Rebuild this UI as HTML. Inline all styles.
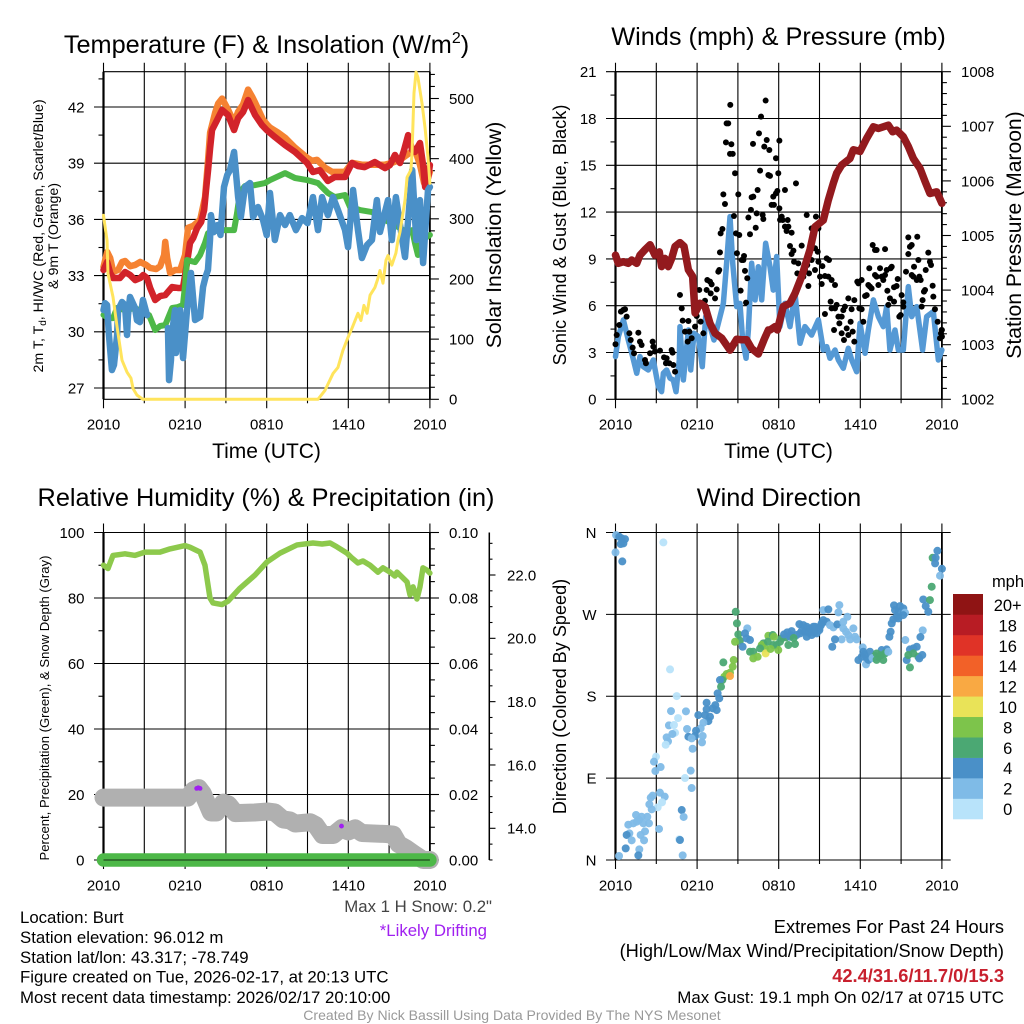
<!DOCTYPE html>
<html lang="en">
<head>
<meta charset="utf-8">
<title>Burt Mesonet Meteogram</title>
<style>
html,body{margin:0;padding:0;background:#fff;}
svg{display:block;font-family:"Liberation Sans",Arial,sans-serif;}
text{fill:#000;}
</style>
</head>
<body>
<svg id="chart" xmlns="http://www.w3.org/2000/svg" width="1024" height="1024" viewBox="0 0 1024 1024">
<rect x="0" y="0" width="1024" height="1024" fill="#fff"/>
<g id="layer-plots"></g>
<text x="266.5" y="53" font-size="25.3" text-anchor="middle">Temperature (F) &amp; Insolation (W/m<tspan dy="-10" font-size="16">2</tspan><tspan dy="10">)</tspan></text>
<text x="778.5" y="45" font-size="25.3" text-anchor="middle">Winds (mph) &amp; Pressure (mb)</text>
<text x="266" y="506" font-size="25.3" text-anchor="middle">Relative Humidity (%) &amp; Precipitation (in)</text>
<text x="779" y="506" font-size="25.3" text-anchor="middle">Wind Direction</text>
<text transform="translate(43 236) rotate(-90)" font-size="14.2" text-anchor="middle">2m T, T<tspan dy="3" font-size="10">d</tspan><tspan dy="-3">, HI/WC (Red, Green, Scarlet/Blue)</tspan></text>
<text transform="translate(58 236) rotate(-90)" font-size="14.2" text-anchor="middle">&amp; 9m T (Orange)</text>
<text transform="translate(501 235) rotate(-90)" font-size="21.2" text-anchor="middle">Solar Insolation (Yellow)</text>
<text transform="translate(566 235) rotate(-90)" font-size="18.2" text-anchor="middle">Sonic Wind &amp; Gust (Blue, Black)</text>
<text transform="translate(1021 235) rotate(-90)" font-size="21.1" text-anchor="middle">Station Pressure (Maroon)</text>
<text transform="translate(49 708) rotate(-90)" font-size="13.1" text-anchor="middle">Percent, Precipitation (Green), &amp; Snow Depth (Gray)</text>
<text transform="translate(566 696.5) rotate(-90)" font-size="18.1" text-anchor="middle">Direction (Colored By Speed)</text>
<text x="266.5" y="458" font-size="21" text-anchor="middle">Time (UTC)</text>
<text x="778.5" y="458" font-size="21" text-anchor="middle">Time (UTC)</text>
<text x="1008" y="587" font-size="16.5" text-anchor="middle">mph</text>
<text x="492" y="912" font-size="16.8" text-anchor="end" style="fill:#444">Max 1 H Snow: 0.2"</text>
<text x="487" y="936" font-size="16.8" text-anchor="end" style="fill:#a020f0">*Likely Drifting</text>
<text x="20" y="923" font-size="16.8">Location: Burt</text>
<text x="20" y="943" font-size="16.8">Station elevation: 96.012 m</text>
<text x="20" y="963" font-size="16.8">Station lat/lon: 43.317; -78.749</text>
<text x="20" y="982.5" font-size="16.8">Figure created on Tue, 2026-02-17, at 20:13 UTC</text>
<text x="20" y="1003" font-size="16.8">Most recent data timestamp: 2026/02/17 20:10:00</text>
<text x="1004" y="933" font-size="18.25" text-anchor="end">Extremes For Past 24 Hours</text>
<text x="1004" y="957" font-size="18.25" text-anchor="end">(High/Low/Max Wind/Precipitation/Snow Depth)</text>
<text x="1004" y="982" font-size="18.3" font-weight="bold" text-anchor="end" style="fill:#c8202e">42.4/31.6/11.7/0/15.3</text>
<text x="1004" y="1003" font-size="16.9" text-anchor="end">Max Gust: 19.1 mph On 02/17 at 0715 UTC</text>
<text x="512" y="1020" font-size="14.05" text-anchor="middle" style="fill:#999">Created By Nick Bassill Using Data Provided By The NYS Mesonet</text>
</svg>
<script>
// ---------- chart data ----------
const timeTickLabels = ['2010','0210','0810','1410','2010'];
const tempTicks = [42,39,36,33,30,27];
const tempMinorTicks = [43.5,40.5,37.5,34.5,31.5,28.5];
const insolationTicks = [0,100,200,300,400,500];
const windTicks = [0,3,6,9,12,15,18,21];
const windMinorTicks = [1.5,4.5,7.5,10.5,13.5,16.5,19.5];
const pressureTicks = [1002,1003,1004,1005,1006,1007,1008];
const percentTicks = [0,20,40,60,80,100];
const percentMinorTicks = [10,30,50,70,90];
const precipTicks = [0,0.02,0.04,0.06,0.08,0.1];
const snowTicks = [14,16,18,20,22];
const directionTicks = [0,90,180,270,360];
const directionLabels = ['N','E','S','W','N'];
const speedLabels = ['0','2','4','6','8','10','12','14','16','18','20+'];
const speedColors = ['#b8e3fa','#7fbbe7','#4a90c8','#4ba873','#7dc44b','#e9e358','#f9a943','#f26128','#e03327','#b81c24','#8f1414'];

const orangeHours = [0,.27,.49,.71,1.08,1.37,1.59,1.96,2.33,2.7,3.14,3.43,3.87,4.17,4.46,4.54,4.68,4.9,5.27,5.64,6,6.22,6.59,7.11,7.47,7.69,7.84,8.21,8.43,8.72,9.16,9.6,9.9,10.26,10.63,10.93,11.15,11.73,12.03,12.25,12.84,13.35,14.08,14.97,15.33,15.7,16.29,16.8,17.76,18.27,19,19.6,20.7,21.21,21.8,22.53,22.9,23.27,23.57,23.86,24];
const orangeTemps = [33.46,34.26,33.94,33.2,33.3,33.73,33.78,33.5,33.57,33.73,33.57,33.41,33.35,33.5,34.1,34.8,33.94,33.14,33.3,33.3,34.1,35.55,35.65,35.98,37.2,39.18,40.63,41.7,42.18,42.45,41.86,41.16,41.75,42.13,42.93,42.55,42.23,41.32,41.06,40.9,40.63,40.36,39.83,39.29,39.13,39.18,38.76,38.54,38.54,39.02,38.92,38.92,38.92,39.02,39.18,39.56,39.72,38.92,37.95,38.22,38.54];

const redHours = [0,.27,.49,.71,1.2,1.59,1.96,2.33,2.7,2.92,3.2,3.43,3.8,4.17,4.54,5.05,5.47,5.84,6,6.36,6.59,6.88,7.18,7.4,7.54,7.69,7.84,7.98,8.35,8.72,9.16,9.6,9.9,10.26,10.63,11.15,11.65,12,12.6,13.35,14.08,14.97,15.4,15.9,16.5,17,17.75,18.27,18.7,19.2,19.95,20.7,21.06,21.43,21.8,22.1,22.4,22.7,22.9,23.27,23.5,23.65,23.86,24];
const redTemps = [33.3,33.73,33.14,32.87,32.87,33.19,33.03,32.76,32.87,33.03,32.87,32.34,31.7,31.91,31.96,32.39,32.34,32.34,33.03,34.74,35,35.54,35.86,36.5,37.57,38.63,39.81,40.77,41.3,41.84,41.57,40.77,41.41,41.73,42.37,41.57,41.04,40.77,40.4,39.97,39.6,39.01,38.53,38.63,38.05,38.26,38.26,39.01,38.85,38.79,39.06,38.74,38.9,39.44,39.01,39.7,40.5,39.7,39.6,40.08,38.9,37.73,38.21,38.9];

const greenHours = [0,.33,.7,1,1.59,2.33,2.83,3.35,3.8,4.17,4.54,5.05,5.47,5.84,6,6.14,6.73,7.1,7.46,7.69,8.2,8.93,9.6,9.82,10.04,10.4,11.15,11.87,12.25,13.35,14.08,14.97,15.77,16.5,17,17.75,18.13,18.86,19.74,20.7,21.43,22.4,22.7,22.9,23.12,23.42,24];
const greenTemps = [30.9,30.73,30.73,31.27,31.16,31.27,31.05,30.89,30.09,30.31,30.36,31.27,31.32,31.43,32.5,33.83,33.72,34.1,34.74,35.27,35.38,35.43,35.43,36.34,37.46,37.78,37.83,37.94,38.1,38.47,38.21,38.1,37.94,37.41,37.19,37.3,36.66,36.5,36.39,35.97,35.7,35.27,35.43,34.74,34.1,34.9,35.17];

const blueHours = [0,.11,.26,.4,.62,.77,1,1.07,1.36,1.58,1.73,1.8,1.95,2.32,2.46,2.68,2.9,3.2,3.3,4.74,4.82,4.96,5.04,5.26,5.33,5.63,5.85,6.14,6.43,6.73,7.1,7.32,7.5,7.68,7.83,7.9,8.1,8.4,8.6,8.86,9.1,9.3,9.6,9.9,10.1,10.4,10.77,11,11.36,11.73,12,12.24,12.6,12.98,13.35,13.7,14.15,14.6,15,15.4,15.77,16.07,16.5,16.87,17.24,17.76,17.98,18.35,18.71,19,19.38,19.74,20.1,20.33,20.92,21.2,21.5,21.95,22.17,22.4,22.7,23,23.27,23.5,23.86,24];
const blueTemps = [31.16,31.53,31.43,29.83,27.96,28.23,29.83,31.16,31.59,31.43,29.83,30.89,31.86,31.27,30.62,30.52,31.7,30.89,null,30.2,27.42,28.49,29.93,31.16,28.87,31.16,28.6,31.16,33.14,30.63,30.79,32.39,32.92,33.3,34.9,36.23,35.32,35.7,35.17,37.73,38.37,38.63,39.6,37.19,36.13,37.73,37.94,36.13,36.66,35.97,35.16,37.41,34.9,36.23,35.7,36.23,35.43,36.07,35.8,37.19,35.43,37.19,36.23,37.19,36.5,35.43,34.52,37.57,35.43,33.94,34.63,34.9,37.03,35.33,37.03,34.9,37.19,35,33.99,35.97,38.63,34.9,37.03,33.67,37.57,37.73];

const insolationHours = [0,.07,.26,.33,.7,1,1.36,1.73,2.02,2.17,2.46,2.9,6,12,15.77,16.29,16.88,17.24,17.6,17.98,18.27,18.5,18.71,18.93,19.15,19.38,19.6,19.96,20.18,20.33,20.55,20.77,20.92,21.2,21.5,21.65,21.8,22.17,22.32,22.6,22.68,22.83,22.98,23.12,23.42,23.64,23.86,24];
const insolationValues = [306,294,264,209,170,120,65,45,35,18,7,0,0,0,0,15,43,53,81,103,118,131,143,131,156,143,173,186,201,214,193,231,239,223,243,264,278,331,369,381,406,509,544,535,492,452,402,359];

const windHours = [0,.21,.58,.94,1.26,1.56,1.8,2.05,2.41,2.78,3.15,3.39,3.52,3.76,4.01,4.25,4.45,4.69,4.74,4.99,5.36,5.53,5.77,6.09,6.38,6.63,6.95,7.24,7.56,7.93,8.17,8.42,8.62,8.91,9.15,9.35,9.6,9.77,10.01,10.26,10.5,10.75,11.04,11.36,11.6,11.85,12.09,12.46,12.83,13.2,13.57,13.93,14.42,14.92,15.28,15.53,15.77,16.14,16.39,16.75,17.12,17.37,17.73,17.98,18.35,18.59,18.96,19.33,19.69,19.94,20.18,20.55,20.8,21.16,21.53,21.78,22.15,22.58,22.88,23.37,23.74,24];
const windSpeeds = [2.74,4.02,5.09,3.8,2.74,1.67,2.74,2.09,1.88,2.52,.81,.49,1.67,1.88,1.35,1.24,.49,2.52,4.66,1.24,4.44,1.88,4.23,4.02,2.09,5.3,4.66,3.8,4.87,6.15,8.72,11.71,8.72,5.94,6.15,3.8,2.63,4.44,8.72,6.37,8.5,6.37,10,8.5,7.0,9.15,4.66,6.15,4.66,6.79,3.59,4.66,4.12,5.09,3.16,3.38,2.63,3.16,2.52,1.99,3.27,2.52,1.77,4.87,2.95,4.44,6.37,5.3,4.66,5.94,3.16,4.44,3.16,3.16,7.22,5.3,5.94,3.16,5.3,5.62,2.52,3.16];

const pressureHours = [0,.21,.58,.94,1.19,1.56,1.8,2.17,2.54,2.9,3.22,3.39,3.64,3.88,4.13,4.38,4.74,5.04,5.36,5.67,5.85,6.21,6.58,6.95,7.32,7.81,8.42,8.91,9.28,9.64,10.01,10.5,10.92,11.24,11.36,11.73,11.9,12.34,12.83,13.2,13.69,14.3,14.67,15.28,15.65,16.02,16.26,16.63,17.24,17.49,17.98,18.47,18.96,19.33,20.06,20.38,20.67,21.16,21.53,21.9,22.39,22.76,23.12,23.62,24];
const pressureValues = [1004.64,1004.49,1004.52,1004.49,1004.55,1004.49,1004.64,1004.74,1004.83,1004.64,1004.7,1004.43,1004.58,1004.43,1004.58,1004.8,1004.87,1004.8,1004.37,1004.25,1003.58,1003.76,1003.7,1003.39,1003.21,1003.12,1002.9,1003.1,1003.09,1003.09,1002.93,1002.83,1003.09,1003.27,1003.27,1003.33,1003.27,1003.7,1003.76,1003.94,1004.25,1004.74,1005.16,1005.28,1005.65,1005.96,1006.14,1006.29,1006.41,1006.57,1006.54,1006.78,1006.99,1006.96,1007.02,1006.9,1006.93,1006.81,1006.63,1006.41,1006.23,1005.99,1005.77,1005.8,1005.59];

const gustHours = [0,.09,.28,.4,.58,.7,.82,1.02,1.12,1.26,1.36,1.68,1.8,1.92,2.17,2.24,2.54,2.73,2.78,2.9,3.27,3.57,3.76,4.13,4.2,3.71,3.96,4.25,4.38,4.74,4.87,4.94,5.11,5.36,5.43,5.31,5.6,5.85,5.97,6.16,6.26,6.46,6.58,6.7,6.75,6.95,7.07,7,7.32,7.44,7.56,7.63,7.68,7.73,7.86,7.93,8.05,8.12,8.17,8.29,8.44,8.42,8.52,8.62,8.79,8.71,8.86,8.93,9.1,9.03,9.2,9.28,9.4,9.45,9.52,9.69,9.6,9.89,9.77,9.96,10.01,10.13,10.11,10.31,10.38,10.45,10.55,10.63,10.7,10.82,10.87,11.04,11.12,10.94,11.31,11.24,11.36,11.48,11.6,11.65,11.8,11.8,11.9,11.97,12.05,12.05,12.1,
12.46,13.27,12.22,12.29,12.46,12.66,12.71,12.58,12.95,12.83,13.08,12.95,13.13,13.44,13.69,14.06,13.37,13.81,13.93,14.1,14.42,14.23,14.18,14.42,14.67,14.74,14.87,14.92,14.67,14.92,15.21,15.53,15.7,15.04,15.16,15.4,15.65,15.89,16.14,15.4,15.82,15.89,16.14,16.26,16.39,16.46,16.63,16.07,16.63,16.8,17,17.12,17.29,17.44,17.56,16.75,16.87,17.12,17.36,17.56,17.86,17.78,17.93,18.1,18.22,18.35,18.47,18.1,18.59,18.66,18.71,18.83,18.91,19.08,19.2,19.08,19.2,19.33,19.45,19.57,19.69,19.82,19.82,19.94,20.23,20.31,19.99,20.18,20.48,20.67,20.75,20.48,20.06,20.87,20.97,21.04,21.16,21.16,21.36,21.53,21.53,21.65,21.78,21.78,21.95,21.9,22.15,22.19,22.27,22.34,22.44,22.51,22.58,22.68,22.76,22.81,23,23.12,23.2,23.32,23.37,23.49,23.69,23.86,23.98,24,23.93,24];
const gustSpeeds = [3.53,4.12,4.76,5.62,5.73,5.77,5.3,4.23,3.8,3.31,2.95,4.27,3.7,3.48,2.52,2.31,2.95,3.7,3.38,3.06,3.12,2.69,2.63,3.16,2.99,2.31,2.31,2.2,1.77,6.69,5.83,5.04,4.34,5.02,4.34,3.7,3.91,4.66,5.34,7.01,4.98,4.23,6.32,7.01,7.65,7.54,7.37,6.79,6.47,7.05,8.18,8.29,9.42,10.64,10.92,13.14,12.52,16.47,17.69,17.69,18.87,15.73,16.35,15.73,14.49,11.75,10.64,9.36,10.53,13.14,6.97,8.93,8.93,9.19,8.23,7.76,6.2,10.58,11.65,12.14,12.95,12.99,16.37,11,11.92,13.42,17.05,14.66,18.12,11.82,11.56,19.15,16.62,16.2,15.98,14.38,14.32,12.46,12.99,12.46,15.45,13.2,13.35,14.49,16.58,12.24,11.5,
13.42,13.84,11.71,11.49,11.07,11.49,11.07,10.79,10.68,9.83,9.53,9.31,8.82,8.71,9.85,11.81,8.07,7.86,8.29,8.61,8.93,8.07,7.26,10.96,9.68,11.71,9.46,10.96,8.29,8.82,8.54,9.03,8.93,7.86,7.39,7.9,7.86,7.65,7.33,5.47,6.26,5.83,5.83,6.05,5.3,4.87,5.3,4.44,4.23,3.8,4.55,4.12,4.97,4.34,3.7,5.72,5.94,6.47,5.77,6.36,7.43,7.54,5.83,5.77,4.97,6.62,6.68,7.65,7.33,8.4,7.22,7.11,9.89,9.57,9.57,7.97,7.86,7.33,8.4,7.86,7.65,7.97,9.63,8.29,8.4,8.5,6.96,6.47,7.18,7.26,7.71,6.26,6.05,5.3,5.4,6.68,5.94,6.21,8.18,9.31,10.38,9.78,9.89,7.97,8.5,7.86,7.65,10.42,8.93,7.86,7.65,5.94,6.36,6.9,7.01,8.29,9.4,8.82,8.61,7.28,6.58,5.77,4.97,3.91,4.44,4.44,4.23,4.02];

const humidityHours = [0,.33,.7,1.58,2.32,3.05,4.15,4.89,6,6.36,7.1,7.46,7.83,8.05,8.71,9.15,10.04,11.14,12.02,12.98,14.23,15.4,16.07,16.66,17.17,17.9,18.27,18.71,19.08,19.6,20.18,20.55,21.07,21.43,21.58,22.32,22.54,22.76,23.05,23.27,23.49,23.79,24];
const humidityValues = [90,89,93,93.5,93,94,94,95,96,95.5,94,90,80,78.5,78,79,83,87,91,93.7,96.2,96.8,96.5,96.8,95.6,93.7,92.2,90.7,91.3,90,87.9,89.2,87.9,86.7,87.9,84.9,80.9,83.4,79.7,83.4,89.2,88.5,87.6];

const snowHours = [0,6.2,6.6,7,7.3,7.9,8.3,8.8,9.2,9.7,11.1,12.1,12.6,13.2,13.7,14.1,15.2,15.6,16.1,16.9,17.5,18,18.5,19,20.8,21.3,21.7,22.2,22.8,23.5,24];
const snowDepths = [14.97,14.97,15.2,15.27,15.1,14.5,14.5,14.81,14.75,14.48,14.5,14.53,14.5,14.28,14.25,14.15,14.19,14.1,13.79,13.79,14,13.9,14,13.85,13.82,13.8,13.5,13.38,13.2,13,13];

const precipHours = [0,1,2,3,4,5,6,7,8,9,10,11,12,13,14,15,16,17,18,19,20,21,22,23,24];
const precipValues = [0,0,0,0,0,0,0,0,0,0,0,0,0,0,0,0,0,0,0,0,0,0,0,0,0];

const driftHours = [6.85,6.97,7.1,17.5];
const driftDepths = [15.26,15.28,15.26,14.07];

const directionHours = [.04,.28,.45,.7,.58,.38,0,.5,3.52,8.84,8.93,9.03,9.69,9.52,9.15,9.64,9.89,9.35,8.79,7.93,8.69,8.62,4.01,8.42,8.17,8,8.42,7.86,7.68,7.76,7.51,7.63,4.5,6.7,7.34,7.14,7.44,6.7,4.08,5.18,6.09,6.58,6.95,6.83,4.6,6.46,3.93,4.3,5.26,6.26,5.92,4.38,4.18,3.76,3.86,5.36,5.85,6.41,5.6,6.36,3.69,5.67,2.98,2.83,3.32,2.93,5.53,5.11,5.6,3.27,2.73,3.62,2.59,3.42,2.49,3.1,2.66,4.87,5.01,1.51,2.34,1.92,1.73,1.31,.94,2.05,2.46,1.56,3.2,2.17,1.02,1.85,.82,1.19,2.1,4.69,4.74,.75,1.75,.26,1.68,4.94,
11.24,10.87,10.75,10.99,10.63,10.13,9.89,11.04,10.13,10.45,
11.56,11.65,11.85,11.97,11.61,12.22,12.54,12.71,13.2,12.63,12.95,12.83,13.32,13.52,13.81,13.57,13.93,14.06,14.3,14.55,14.43,14.79,14.99,14.67,14.06,15.28,15.65,16.39,16.46,15.28,15.53,15.16,15.77,16.02,16.31,16.75,17.05,16.63,16.14,15.94,16.75,16.95,17.49,17.12,17.61,17.25,17.73,18.18,17.86,18.1,18.47,18.42,18.22,18.71,19.08,19.33,19.57,19.94,19.69,19.82,20.06,
20.48,20.92,21.16,20.55,20.8,21.29,21.16,20.67,20.43,20.8,20.31,20.23,20.14,21.31,22.59,22.42,22.15,21.65,21.9,21.41,21.53,21.9,21.65,22.27,22.56,22.34,22.63,23.12,22.81,23,23.25,23.32,23.67,23.54,23.5,24,23.86,
11.2,11.4,12.1,12.4,12.9,13.1,13.7,14.2,14.6,15,15.1,18.3,18.6,18.9,19.2,19.5,19.2];
const directionDegrees = [357.1,355.3,353.5,352.7,348,347.3,338.1,328.2,349.1,272.9,260.1,248,254.6,249.1,241,243.6,241.8,234.4,239.9,217.2,219.8,212.5,209.5,205.9,204.4,201.5,202.2,197.8,197.8,190.5,183.2,177.7,180.2,172.9,170.3,166.7,164.8,165.6,163.7,163.4,159.3,159.3,157.5,152.7,156,150.9,148,148.4,144,144.7,142.1,139.9,138.5,134.8,130.4,135.5,136.3,136.3,133.7,129.3,126.7,122.3,113.6,108.1,102.2,97.8,98.2,90.1,79.1,74,70.7,69.6,68.5,63.4,61.2,57.9,55.7,54.9,47.3,49.5,47.6,47.6,44,40.3,38.8,40.3,40.3,42.1,34.1,31.5,29.3,27.5,27.5,21.6,21.6,22.7,22,12.8,11.7,4.4,5.1,5.1,
246.5,238.1,236.3,232.6,232.6,228.9,228.9,227.1,221.6,223.4,
247.3,245.4,236.3,230.8,236.3,243.6,244.7,236.3,237.4,250.2,251.6,245.4,247.3,259.3,258.2,249.1,250.9,256.4,254.6,256.4,247.3,249.1,252.7,256.4,245.4,274.7,275.5,272.2,280.2,263.7,261.9,260.1,258.2,255.7,259,261.9,267.4,242.5,242.5,234.4,254.6,250.9,254.6,247.3,245.4,242.5,242.5,233.7,219.8,223.4,221.6,215,228.9,228.9,224.2,223.4,230.8,231.5,219.8,227.1,228.9,
279.9,279.1,276.6,274.7,272.9,271.8,269.2,267.4,264.5,265.6,260.1,250.9,245.4,241.8,252.4,245.1,234.4,231.5,232.6,219.8,225.3,227.1,211.7,223.4,225.3,221.6,286.4,285.7,279.1,272.9,300.4,332.2,339.9,332.2,326,320.1,312.5,
240,232,240,248,247,244,252,250,250,255,258,226,220,222,227,225,220];
const directionSpeeds = [2,4,4,4,4,4,2,4,0,6,6,6,2,4,6,4,4,4,8,6,8,8,0,8,8,8,12,6,4,6,4,4,0,4,4,4,4,4,2,2,4,4,4,4,0,2,2,0,2,2,4,0,2,2,2,4,4,2,2,2,0,2,0,2,2,2,2,0,2,2,2,2,2,0,2,0,2,4,2,2,2,2,2,2,2,2,2,2,2,2,2,2,4,2,2,0,4,4,2,2,4,2,
8,6,8,8,6,6,6,10,8,8,
6,8,6,8,6,6,6,6,6,4,4,4,4,4,4,4,4,4,4,4,4,4,4,4,4,2,4,2,2,4,4,4,2,2,4,2,2,2,4,4,2,2,2,2,2,2,2,2,4,4,4,2,4,4,6,6,4,4,6,6,2,
4,4,4,4,4,2,4,4,4,4,4,4,4,2,2,4,4,4,4,4,6,6,6,6,4,4,4,6,4,4,6,6,4,4,4,4,2,
6,8,6,4,4,6,4,4,4,4,4,4,4,2,6,6,6];

// ---------- axis helpers ----------
function makeY(v0, y0, v1, y1) {
  return function (v) { return y0 + (v - v0) * (y1 - y0) / (v1 - v0); };
}
const yTemp = makeY(42, 107, 27, 388);
const yInsolation = makeY(0, 399.3, 500, 98.5);
const yWind = makeY(0, 399.3, 21, 71.7);
const yPressure = makeY(1002, 399.3, 1008, 71.7);
const yPercent = makeY(0, 860, 100, 532.5);
const yPrecip = makeY(0, 860, 0.1, 532.5);
const ySnow = makeY(14, 828.3, 22, 575);
const yDirection = makeY(0, 860, 360, 532.5);

const plotsRoot = document.getElementById('layer-plots');
const SVGNS = 'http://www.w3.org/2000/svg';

function mk(tag, parent, name) {
  const el = document.createElementNS(SVGNS, tag);
  
  
  parent.appendChild(el);
  return el;
}
function addLine(parent, name, x1, y1, x2, y2, width) {
  const el = mk('line', parent, name);
  el.setAttribute('x1', x1);
  el.setAttribute('y1', y1);
  el.setAttribute('x2', x2);
  el.setAttribute('y2', y2);
  el.setAttribute('stroke', '#000');
  el.setAttribute('stroke-width', width || 1.1);
  return el;
}
function addText(parent, name, x, y, content, anchor, size) {
  const el = mk('text', parent, name);
  el.setAttribute('x', x);
  el.setAttribute('y', y);
  el.setAttribute('font-size', size || 15);
  el.setAttribute('text-anchor', anchor);
  el.textContent = content;
  return el;
}
function addSeries(parent, name, hours, values, xf, yf, color, width) {
  let d = '';
  let pen = false;
  for (let i = 0; i < hours.length; i++) {
    if (values[i] === null) { pen = false; continue; }
    d += (pen ? 'L' : 'M') + xf(hours[i]).toFixed(2) + ' ' + yf(values[i]).toFixed(2);
    pen = true;
  }
  const el = mk('path', parent, name);
  el.setAttribute('d', d);
  el.setAttribute('fill', 'none');
  el.setAttribute('stroke', color);
  el.setAttribute('stroke-width', width);
  el.setAttribute('stroke-linejoin', 'round');
  el.setAttribute('stroke-linecap', 'round');
  return el;
}
function addDot(parent, name, x, y, r, color, opacity) {
  const el = mk('circle', parent, name);
  el.setAttribute('cx', x.toFixed(2));
  el.setAttribute('cy', y.toFixed(2));
  el.setAttribute('r', r);
  el.setAttribute('fill', color);
  if (opacity) el.setAttribute('fill-opacity', opacity);
  return el;
}
function timeAxis(parent, left, top, bottom) {
  const xf = function (h) { return left + h * 326.4 / 24; };
  for (let h = 0; h <= 24; h += 3) {
    const major = h % 6 === 0;
    addLine(parent, 'time-gridline', xf(h), top - 9, xf(h), bottom + (major ? 9 : 4));
    if (major) {
      addText(parent, 'time-tick-label', xf(h), bottom + 30.3, timeTickLabels[h / 6], 'middle');
    }
  }
  return xf;
}
function leftTicks(parent, left, right, yf, ticks, minor, labels) {
  ticks.forEach(function (t, i) {
    addLine(parent, 'y-gridline', left - 9.5, yf(t), right, yf(t));
    const lab = labels ? labels[i] : String(t);
    addText(parent, 'left-tick-label', left - 19, yf(t) + 5.4, lab, 'end');
  });
  minor.forEach(function (t) {
    addLine(parent, 'left-minor-tick', left - 5, yf(t), left, yf(t));
  });
}
function rightTicks(parent, right, labelX, yf, ticks, minor, labels) {
  ticks.forEach(function (t, i) {
    addLine(parent, 'right-major-tick', right, yf(t), right + 9, yf(t));
    addText(parent, 'right-tick-label', labelX, yf(t) + 5.4, labels ? labels[i] : String(t), 'start');
  });
  minor.forEach(function (t) {
    addLine(parent, 'right-minor-tick', right, yf(t), right + 5, yf(t));
  });
}
function frame(parent, left, right, top, bottom) {
  addLine(parent, 'top-axis-line', left, top, right, top);
  addLine(parent, 'bottom-axis-line', left, bottom, right, bottom);
  addLine(parent, 'left-axis-line', left, top, left, bottom, 2.2);
  addLine(parent, 'right-axis-line', right, top, right, bottom, 1.8);
}
function steps(from, to, step, skip) {
  const out = [];
  const n = Math.round((to - from) / step);
  for (let i = 0; i <= n; i++) {
    const v = from + i * step;
    if (!skip || !skip(i)) out.push(+v.toFixed(4));
  }
  return out;
}

// ---------- panel 1: temperature & insolation ----------
(function () {
  const g = mk('g', plotsRoot, 'temperature-panel');
  const grid = mk('g', g, 'temperature-grid');
  const xf = timeAxis(grid, 103.5, 71.7, 399.3);
  leftTicks(grid, 103.5, 429.9, yTemp, tempTicks, tempMinorTicks);
  rightTicks(grid, 429.9, 449, yInsolation, insolationTicks, steps(0, 540, 20, function (i) { return i % 5 === 0; }));
  frame(grid, 103.5, 429.9, 71.7, 399.3);
  const s = mk('g', g, 'temperature-series');
  addSeries(s, 'temperature-9m-orange-line', orangeHours, orangeTemps, xf, yTemp, '#f58232', 6.5);
  addSeries(s, 'temperature-2m-red-line', redHours, redTemps, xf, yTemp, '#d2232a', 6.5);
  addSeries(s, 'heat-index-green-line', greenHours, greenTemps, xf, yTemp, '#4db848', 6);
  addSeries(s, 'dewpoint-blue-line', blueHours, blueTemps, xf, yTemp, '#4a90c8', 6.5);
  addSeries(s, 'insolation-yellow-line', insolationHours, insolationValues, xf, yInsolation, '#ffe45c', 3);
})();

// ---------- panel 2: winds & pressure ----------
(function () {
  const g = mk('g', plotsRoot, 'winds-panel');
  const grid = mk('g', g, 'winds-grid');
  const xf = timeAxis(grid, 615.5, 71.7, 399.3);
  leftTicks(grid, 615.5, 941.9, yWind, windTicks, windMinorTicks);
  rightTicks(grid, 941.9, 961, yPressure, pressureTicks, steps(1002, 1008, 0.2, function (i) { return i % 5 === 0; }));
  frame(grid, 615.5, 941.9, 71.7, 399.3);
  const s = mk('g', g, 'winds-series');
  addSeries(s, 'sonic-wind-blue-line', windHours, windSpeeds, xf, yWind, '#5599d5', 5.5);
  for (let i = 0; i < gustHours.length; i++) {
    addDot(s, 'gust-point', xf(gustHours[i]), yWind(gustSpeeds[i]), 3, '#000');
  }
  addSeries(s, 'pressure-maroon-line', pressureHours, pressureValues, xf, yPressure, '#931a1e', 7.5);
})();

// ---------- panel 3: humidity, precipitation & snow ----------
(function () {
  const g = mk('g', plotsRoot, 'humidity-panel');
  const grid = mk('g', g, 'humidity-grid');
  const xf = timeAxis(grid, 103.5, 532.5, 860);
  leftTicks(grid, 103.5, 438.9, yPercent, percentTicks, percentMinorTicks);
  rightTicks(grid, 429.9, 449, yPrecip, precipTicks, steps(0, 0.1, 0.005, function (i) { return i % 4 === 0; }), precipTicks.map(function (t) { return t.toFixed(2); }));
  frame(grid, 103.5, 429.9, 532.5, 860);
  addLine(grid, 'snow-axis-line', 489.3, 532.5, 489.3, 860, 1.5);
  snowTicks.forEach(function (t) {
    addLine(grid, 'snow-major-tick', 489.3, ySnow(t), 495.5, ySnow(t));
    addText(grid, 'snow-tick-label', 507, ySnow(t) + 5.4, t.toFixed(1), 'start');
  });
  steps(13, 23, 0.5, function (i) { return i % 4 === 2; }).forEach(function (t) {
    addLine(grid, 'snow-minor-tick', 489.3, ySnow(t), 492.5, ySnow(t));
  });
  const s = mk('g', g, 'humidity-series');
  addSeries(s, 'relative-humidity-line', humidityHours, humidityValues, xf, yPercent, '#8dc94c', 5.5);
  addSeries(s, 'snow-depth-line', snowHours, snowDepths, xf, ySnow, '#b0b0b0', 18);
  addSeries(s, 'precipitation-line', precipHours, precipValues, xf, yPrecip, '#4db848', 13.5);
  for (let i = 0; i < driftHours.length; i++) {
    addDot(s, 'drifting-snow-point', xf(driftHours[i]), ySnow(driftDepths[i]), 2.4, '#a020f0');
  }
  const zero = addLine(g, 'humidity-zero-line', 103.5, 860, 429.9, 860, 1);
  zero.setAttribute('stroke-opacity', '0.75');
})();

// ---------- panel 4: wind direction ----------
(function () {
  const g = mk('g', plotsRoot, 'direction-panel');
  const grid = mk('g', g, 'direction-grid');
  const xf = timeAxis(grid, 615.5, 532.5, 860);
  leftTicks(grid, 615.5, 950.7, yDirection, directionTicks, [], directionLabels);
  frame(grid, 615.5, 941.9, 532.5, 860);
  const s = mk('g', g, 'direction-points');
  for (let i = 0; i < directionHours.length; i++) {
    const color = speedColors[Math.min(10, Math.round(directionSpeeds[i] / 2))];
    addDot(s, 'direction-point', xf(directionHours[i]), yDirection(directionDegrees[i]), 4, color, 0.95);
  }
  const bar = mk('g', g, 'speed-colorbar');
  const seg = 225 / speedLabels.length;
  speedLabels.forEach(function (label, i) {
    const rect = mk('rect', bar, 'colorbar-segment');
    rect.setAttribute('x', 953);
    rect.setAttribute('y', (819 - (i + 1) * seg).toFixed(2));
    rect.setAttribute('width', 30);
    rect.setAttribute('height', (seg + 0.3).toFixed(2));
    rect.setAttribute('fill', speedColors[i]);
    addText(bar, 'colorbar-label', 1007.7, 815 - i * 20.4, label, 'middle', 16.5);
  });
})();
</script>
</body>
</html>
